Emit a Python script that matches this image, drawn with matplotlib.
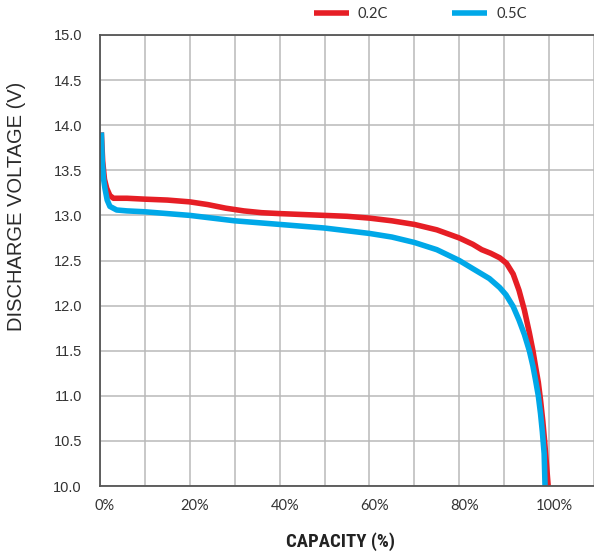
import matplotlib
matplotlib.use("Agg")
import matplotlib.pyplot as plt
import matplotlib.transforms as mtransforms

# capacity (%) / voltage (V)
cap_02 = [0.3, 0.6, 1.0, 1.5, 2.2, 3, 6, 10, 15, 20, 24, 28, 32, 36, 40, 50, 55, 60,
          65, 70, 75, 80, 83, 85, 87, 89, 90.5, 92, 93.3, 94.5, 95.6, 96.4, 97,
          97.6, 98.1, 98.6, 99.0, 99.4, 99.8]
volt_02 = [13.92, 13.6, 13.4, 13.3, 13.22, 13.19, 13.19, 13.18, 13.17, 13.15, 13.12,
           13.08, 13.05, 13.03, 13.02, 13.0, 12.99, 12.97, 12.94, 12.9, 12.84, 12.75,
           12.68, 12.62, 12.58, 12.53, 12.47, 12.35, 12.17, 11.95, 11.7, 11.5, 11.32,
           11.15, 10.95, 10.72, 10.5, 10.25, 10.0]

cap_05 = [0.3, 0.5, 0.8, 1.1, 1.6, 2.2, 3.7, 6, 10, 15, 20, 25, 30, 35, 40, 45, 50,
          55, 60, 65, 70, 75, 80, 83, 86.7, 89, 90.4, 92, 93.3, 94.5, 95.6, 96.4,
          97, 97.6, 98.1, 98.5, 98.9, 99.1]
volt_05 = [13.92, 13.6, 13.4, 13.3, 13.17, 13.1, 13.06, 13.05, 13.04, 13.02, 13.0,
           12.97, 12.94, 12.92, 12.9, 12.88, 12.86, 12.83, 12.8, 12.76, 12.7, 12.62,
           12.5, 12.41, 12.3, 12.2, 12.12, 11.99, 11.84, 11.68, 11.5, 11.33, 11.17,
           11.0, 10.8, 10.6, 10.36, 10.0]

x_ticks = [0, 20, 40, 60, 80, 100]
x_labels = ["0%", "20%", "40%", "60%", "80%", "100%"]
y_ticks = [10.0, 10.5, 11.0, 11.5, 12.0, 12.5, 13.0, 13.5, 14.0, 14.5, 15.0]

RED = "#e61e25"
BLUE = "#00a8e8"
TXT = "#333333"

plt.rcParams["font.family"] = ["Lato", "DejaVu Sans"]

fig = plt.figure(figsize=(5.94, 5.53), dpi=100)
ax = fig.add_axes([100 / 594, 1 - 486 / 553, 494 / 594, 451 / 553])

ax.plot(cap_02, volt_02, color=RED, lw=4, label="0.2C", solid_capstyle="butt")
ax.plot(cap_05, volt_05, color=BLUE, lw=4, label="0.5C", solid_capstyle="butt")

ax.set_xlim(0, 110)
ax.set_ylim(10, 15)
ax.set_xticks(range(0, 111, 10), minor=True)
ax.set_xticks(x_ticks)
ax.set_xticklabels(x_labels)
ax.set_yticks(y_ticks)
ax.set_yticklabels(["%.1f" % v for v in y_ticks])
ax.grid(True, which="both", color="#b9b9b9", lw=1.1)
ax.set_axisbelow(True)
ax.tick_params(which="both", length=0)
ax.tick_params(axis="x", pad=9, labelsize=10.5, labelcolor=TXT)
ax.tick_params(axis="y", pad=13, labelsize=10.5, labelcolor=TXT)
for lab in ax.get_yticklabels():
    lab.set_family(["Liberation Sans", "DejaVu Sans"])

# nudge x labels a little to the right like the original
off = mtransforms.ScaledTranslation(5 / 100, 0, fig.dpi_scale_trans)
for lab in ax.get_xticklabels():
    lab.set_transform(lab.get_transform() + off)

for side in ["left", "top", "bottom"]:
    ax.spines[side].set_color("#555555")
    ax.spines[side].set_linewidth(1.3)
ax.spines["right"].set_visible(False)

ax.set_ylabel("DISCHARGE VOLTAGE (V)", fontsize=14.5, color="#2a2a2a",
              family=["Liberation Sans", "DejaVu Sans"])
ax.yaxis.set_label_coords(-0.15, (486 - 206) / 451)

fig.text(341 / 594, 1 - 542 / 553, "CAPACITY (%)", ha="center", va="center",
         fontsize=13.5, fontweight="bold", fontstretch="condensed", color="#222222",
         family=["Roboto Condensed", "DejaVu Sans"])

ax.legend(loc="center left", bbox_to_anchor=(214 / 494, 1 + 21 / 451),
          ncol=2, frameon=False, fontsize=10.5, handlelength=2.4,
          handletextpad=0.6, columnspacing=4.4, borderpad=0, borderaxespad=0,
          labelcolor=TXT)

fig.savefig("out.png", dpi=100)
